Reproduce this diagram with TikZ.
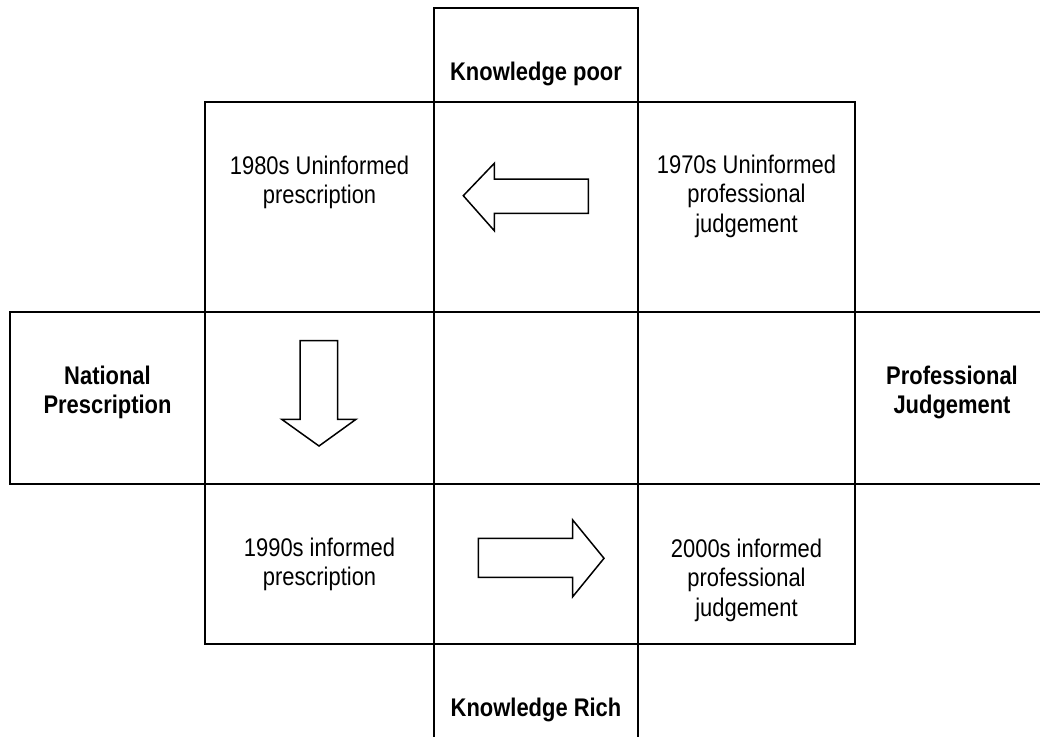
\documentclass[tikz,border=0pt]{standalone}
\usepackage{fontspec}
\setmainfont{Liberation Sans}[FakeStretch=0.86]
\begin{document}
\begin{tikzpicture}[x=1pt,y=-1pt,
  gridline/.style={line width=2pt, line cap=rect},
  arrowshape/.style={draw, line width=1.5pt, line join=miter, fill=white},
  celltext/.style={font={\fontsize{25.5}{29.5}\selectfont}, align=center, anchor=base, inner sep=0pt},
  headtext/.style={font={\fontsize{25.5}{29}\selectfont\bfseries}, align=center, anchor=base, inner sep=0pt}]
\useasboundingbox (0,0) rectangle (1040,736);
\clip (0,0) rectangle (1040,736);
% corners of the grid
\coordinate (tl) at (434,7.5);
\coordinate (tr) at (638,7.5);
\coordinate (sqtl) at (205,102);
\coordinate (sqbr) at (855,644);
% top box and central column
\draw[gridline] (434,745) -- (tl) -- (tr) -- (638,745);
% big square
\draw[gridline] (sqtl) rectangle (sqbr);
% horizontal band
\draw[gridline] (1050,311.7) -- (10,311.7) -- (10,484) -- (1050,484);
% arrows
\draw[arrowshape] (463.3,195.7) -- (494.3,163.3) -- (494.3,179) -- (588.3,179)
  -- (588.3,213.3) -- (494.3,213.3) -- (494.3,230.7) -- cycle;
\draw[arrowshape] (300,340.7) -- (337.7,340.7) -- (337.7,419.3) -- (356,419.3)
  -- (319,446) -- (281.7,419.3) -- (300,419.3) -- cycle;
\draw[arrowshape] (478.3,538.3) -- (572.7,538.3) -- (572.7,520) -- (604,558.3)
  -- (572.7,596.7) -- (572.7,577.3) -- (478.3,577.3) -- cycle;
% texts (anchor = baseline of the last line)
\node[headtext] (kpoor) at (536,80) {Knowledge poor};
\node[headtext] (krich) at (536,716) {Knowledge Rich};
\node[headtext] (natp) at (107.5,413) {National\\Prescription};
\node[headtext] (profj) at (952,413) {Professional\\Judgement};
\node[celltext] (c80) at (319.5,203.5) {1980s Uninformed\\prescription};
\node[celltext] (c70) at (746.5,232) {1970s Uninformed\\professional\\judgement};
\node[celltext] (c90) at (319.5,585.5) {1990s informed\\prescription};
\node[celltext] (c00) at (746.5,616) {2000s informed\\professional\\judgement};
\end{tikzpicture}
\end{document}
